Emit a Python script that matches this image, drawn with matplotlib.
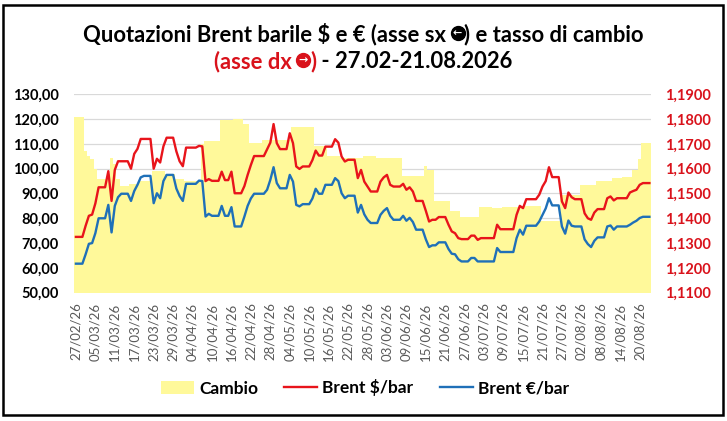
import matplotlib
matplotlib.use("Agg")
import matplotlib.pyplot as plt
from matplotlib.patches import Patch, Rectangle
from matplotlib.lines import Line2D
from matplotlib.ticker import FuncFormatter
import numpy as np
import pandas as pd

plt.rcParams['font.family'] = ['Lato', 'DejaVu Sans']

# one value per day, 27/02/26 -> 23/08/26
date_labels = list(pd.date_range('2026-02-27', periods=178, freq='D').strftime('%d/%m/%y'))

cambio = [
    1.181, 1.181, 1.181, 1.167, 1.165, 1.164, 1.160, 1.156, 1.156, 1.156,
    1.158, 1.1645, 1.162, 1.156, 1.153, 1.153, 1.153, 1.154, 1.154, 1.154,
    1.155, 1.155, 1.155, 1.155, 1.159, 1.159, 1.159, 1.159, 1.158, 1.158,
    1.158, 1.156, 1.156, 1.156, 1.155, 1.155, 1.155, 1.155, 1.155, 1.170,
    1.1712, 1.1712, 1.1712, 1.1712, 1.1712, 1.1795, 1.1795, 1.1795, 1.1795, 1.180,
    1.180, 1.180, 1.178, 1.178, 1.1705, 1.1705, 1.1705, 1.1705, 1.1715, 1.1715,
    1.1715, 1.1715, 1.1715, 1.1715, 1.1715, 1.1715, 1.1715, 1.1767, 1.1767, 1.1767,
    1.1767, 1.1767, 1.1767, 1.1767, 1.169, 1.169, 1.169, 1.169, 1.165, 1.165,
    1.165, 1.165, 1.1642, 1.1642, 1.1642, 1.1642, 1.1642, 1.1642, 1.1642, 1.165,
    1.165, 1.165, 1.165, 1.1645, 1.1645, 1.1645, 1.1643, 1.1643, 1.1643, 1.1643,
    1.1643, 1.157, 1.157, 1.157, 1.157, 1.157, 1.157, 1.157, 1.161, 1.1595,
    1.1595, 1.1468, 1.1468, 1.1468, 1.1468, 1.1468, 1.143, 1.143, 1.143, 1.1405,
    1.1405, 1.1405, 1.1405, 1.1405, 1.1405, 1.1446, 1.1446, 1.1446, 1.1446, 1.144,
    1.144, 1.144, 1.1445, 1.1445, 1.1445, 1.1445, 1.1445, 1.1445, 1.1445, 1.1448,
    1.1448, 1.1448, 1.1448, 1.1448, 1.139, 1.139, 1.139, 1.139, 1.139, 1.139,
    1.1495, 1.1495, 1.1495, 1.1495, 1.1495, 1.1495, 1.1535, 1.1535, 1.1535, 1.1535,
    1.1535, 1.155, 1.155, 1.155, 1.155, 1.155, 1.1562, 1.1562, 1.1562, 1.1568,
    1.1568, 1.1568, 1.1595, 1.1595, 1.164, 1.1703, 1.1703, 1.1703,
]

brent_usd = [
    72.5, 72.5, 72.5, 77.0, 81.0, 81.5, 86.0, 92.5, 92.5, 92.5,
    99.0, 87.0, 99.5, 103.0, 103.0, 103.0, 103.0, 100.0, 106.0, 108.0,
    112.0, 112.0, 112.0, 112.0, 100.0, 104.0, 102.5, 109.0, 112.5, 112.5,
    112.5, 107.0, 103.0, 101.0, 108.5, 108.5, 108.5, 108.5, 109.2, 109.0,
    95.0, 95.8, 95.1, 95.1, 95.1, 98.8, 95.4, 95.4, 98.8, 90.1,
    90.1, 90.1, 93.0, 97.5, 101.5, 105.1, 105.1, 105.1, 105.1, 107.8,
    110.5, 118.0, 110.3, 107.9, 107.9, 107.9, 114.3, 110.3, 100.9, 99.9,
    100.9, 100.9, 100.9, 103.5, 107.3, 105.3, 105.3, 108.9, 108.9, 108.9,
    111.9, 110.5, 104.9, 102.9, 103.6, 103.6, 103.6, 96.2, 99.5, 94.8,
    92.8, 90.8, 90.8, 90.8, 94.8, 96.5, 97.5, 93.5, 92.8, 92.8,
    92.8, 93.9, 91.5, 92.5, 90.8, 87.0, 87.0, 87.0, 83.0, 78.7,
    79.4, 79.4, 80.5, 80.5, 80.5, 77.4, 74.7, 74.0, 72.0, 71.6,
    71.6, 71.6, 73.0, 73.0, 71.3, 72.0, 72.0, 72.0, 72.0, 72.0,
    77.4, 75.6, 75.6, 75.6, 75.6, 75.6, 81.4, 85.0, 84.1, 87.7,
    87.7, 87.7, 87.7, 89.5, 92.8, 95.0, 100.6, 96.6, 96.6, 96.6,
    86.8, 84.1, 90.4, 88.5, 87.7, 87.7, 87.7, 82.0, 80.0, 79.4,
    82.3, 83.7, 83.7, 83.7, 88.1, 88.8, 87.2, 88.1, 88.1, 88.1,
    88.1, 90.4, 91.0, 91.5, 93.5, 94.2, 94.2, 94.2,
]

brent_eur = [
    61.7, 61.7, 61.7, 65.5, 69.7, 70.0, 74.0, 80.0, 80.0, 80.0,
    85.4, 74.3, 85.0, 88.5, 89.9, 89.9, 89.9, 87.0, 91.0, 93.5,
    96.5, 97.1, 97.1, 97.1, 86.1, 90.1, 88.1, 95.0, 97.5, 97.5,
    97.5, 92.0, 89.0, 87.0, 93.9, 93.9, 93.9, 93.9, 95.2, 95.0,
    80.7, 81.8, 81.0, 81.0, 81.0, 85.0, 81.0, 81.0, 84.5, 76.7,
    76.7, 76.7, 80.7, 85.0, 88.0, 89.9, 89.9, 89.9, 89.9, 91.5,
    95.5, 100.6, 94.2, 92.1, 92.1, 92.1, 97.5, 94.8, 85.4, 84.8,
    85.7, 85.7, 85.7, 88.0, 91.9, 89.9, 89.9, 93.5, 93.5, 93.5,
    96.2, 95.0, 90.1, 88.1, 89.1, 89.1, 89.1, 82.3, 85.4, 81.6,
    79.4, 78.1, 78.1, 78.1, 81.4, 83.0, 84.1, 81.0, 79.4, 79.4,
    79.4, 81.0, 79.0, 80.2, 78.5, 75.4, 75.4, 75.4, 71.5, 68.4,
    69.1, 69.1, 70.3, 70.3, 70.3, 67.6, 65.7, 65.5, 63.5, 62.6,
    62.6, 62.6, 64.0, 64.0, 62.6, 62.6, 62.6, 62.6, 62.6, 62.6,
    68.0, 66.4, 66.4, 66.4, 66.4, 66.4, 72.0, 75.4, 73.4, 77.0,
    77.0, 77.0, 77.0, 78.7, 81.4, 84.0, 88.1, 85.2, 85.2, 85.2,
    76.7, 73.8, 79.1, 77.0, 76.7, 76.7, 76.7, 71.5, 69.6, 68.4,
    70.9, 72.3, 72.3, 72.3, 76.7, 77.1, 75.4, 76.7, 76.7, 76.7,
    76.7, 77.4, 78.3, 79.0, 80.1, 80.6, 80.6, 80.6,
]

YELLOW = '#FFF99A'
RED = '#E8141B'
BLUE = '#1F70B8'
RED_TXT = '#D9121B'
GRID = '#D9D9D9'
W, H = 727, 421

n = len(date_labels)
x = np.arange(n)

fig = plt.figure(figsize=(W / 100, H / 100), dpi=100)
ax = fig.add_axes([0.1022, 0.3048, 0.7933, 0.4712])
ax2 = ax.twinx()
ax.set_zorder(2)
ax.patch.set_visible(False)
ax2.set_zorder(1)

# area (right axis) under the lines
ax2.stairs(cambio, np.arange(n + 1) - 0.5, baseline=1.11, fill=True,
           color=YELLOW, lw=0, zorder=1)
ax2.set_ylim(1.11, 1.19)
ax2.set_yticks(np.arange(1.11, 1.1901, 0.01))
ax2.yaxis.set_major_formatter(FuncFormatter(lambda v, p: f"{v:.4f}".replace('.', ',')))
ax2.set_axisbelow(True)
ax2.yaxis.grid(True, color=GRID, lw=0.9)
ax2.xaxis.grid(True, which='minor', color=GRID, lw=0.9)

ax.plot(x, brent_usd, color=RED, lw=1.7, label='Brent $/bar')
ax.plot(x, brent_eur, color=BLUE, lw=1.7, label='Brent €/bar')
ax.set_ylim(50, 130)
ax.set_yticks(np.arange(50, 131, 10))
ax.yaxis.set_major_formatter(FuncFormatter(lambda v, p: f"{v:.2f}".replace('.', ',')))
ax.set_xlim(-0.5, n - 0.5)
ax.set_xticks(x[::6])
ax.set_xticklabels(date_labels[::6], rotation=90)
ax.set_xticks(np.arange(-0.5, n, 5), minor=True)

for a in (ax, ax2):
    for s in a.spines.values():
        s.set_visible(False)
    a.tick_params(which='both', length=0)

ax.tick_params(axis='y', pad=11, labelsize=10.5, labelcolor='black')
for t in ax.get_yticklabels():
    t.set_fontweight('bold')
ax2.tick_params(axis='y', pad=10, labelsize=10.5, labelcolor=RED_TXT)
for t in ax2.get_yticklabels():
    t.set_fontweight('bold')
ax.tick_params(axis='x', pad=7, labelsize=9.5, labelcolor='#595959')

# title: the circled arrows have no glyph in any installed font, so they are
# drawn as a round marker with a white arrow on it
TSIZE = 15.8
r = fig.canvas.get_renderer()


def title_row(y_px, pieces):
    # pieces: (text, colour) or (None, colour, arrow) for the round symbol
    y = 1 - y_px / H
    gap = 18.0
    objs, widths = [], []
    for p in pieces:
        if p[0] is None:
            objs.append(p)
            widths.append(gap)
        else:
            t = fig.text(0, y, p[0], ha='left', va='baseline', fontsize=TSIZE,
                         fontweight='bold', color=p[1])
            objs.append(t)
            widths.append(t.get_window_extent(r).width)
    cur = W / 2 - sum(widths) / 2
    for o, w in zip(objs, widths):
        if isinstance(o, tuple):
            cx = (cur + 4.5 + 6.8) / W
            cy = y + 7.8 / H
            fig.add_artist(Line2D([cx], [cy], marker='o', ms=10.0, color=o[1],
                                  mec=o[1], transform=fig.transFigure))
            fig.text(cx, cy, o[2], ha='center', va='center', fontsize=8,
                     fontweight='bold', color='white', family='DejaVu Sans')
        else:
            o.set_x(cur / W)
        cur += w


title_row(41, [("Quotazioni Brent barile $ e € (asse sx", 'black'),
               (None, 'black', '\u2190'),
               (") e tasso di cambio", 'black')])
title_row(68, [("(asse dx", RED_TXT),
               (None, RED_TXT, '\u2192'),
               (")", RED_TXT),
               (" - 27.02-21.08.2026", 'black')])

handles = [Patch(facecolor=YELLOW, edgecolor='none', label='Cambio'),
           Line2D([], [], color=RED, lw=1.7, label='Brent $/bar'),
           Line2D([], [], color=BLUE, lw=1.7, label='Brent €/bar')]
fig.legend(handles=handles, loc='center', bbox_to_anchor=(0.502, 1 - 388 / H), ncol=3,
           frameon=False, prop={'weight': 'bold', 'size': 12.5}, handlelength=1.9,
           handleheight=0.75, columnspacing=1.5, handletextpad=0.3)

fig.patches.append(Rectangle((3 / W, 1 - 415 / H), 720 / W, 410 / H,
                             transform=fig.transFigure, fill=False, ec='black', lw=1.8))

fig.savefig('out.png', dpi=100)
